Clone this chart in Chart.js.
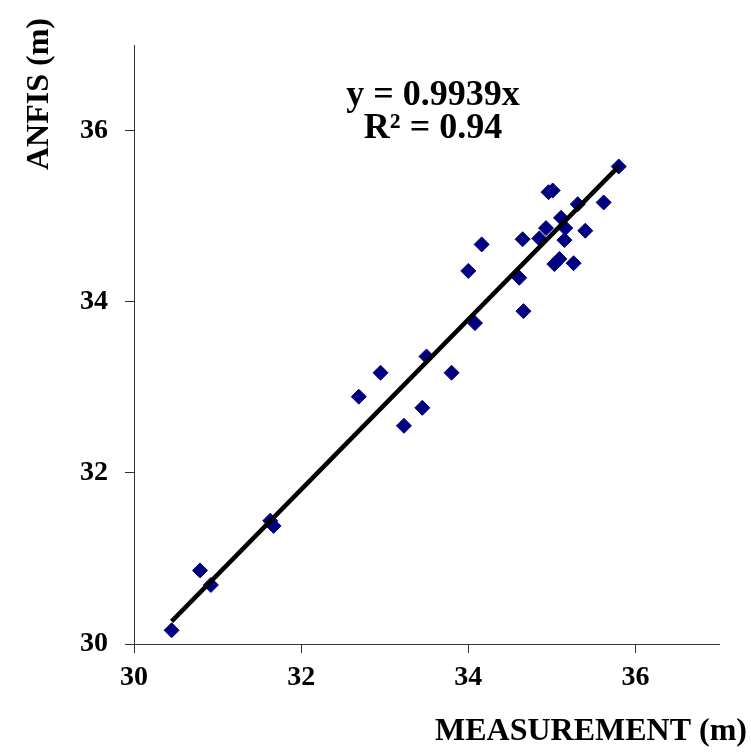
<!DOCTYPE html>
<html>
<head>
<meta charset="utf-8">
<script src="https://cdn.jsdelivr.net/npm/chart.js@4"></script>
<style>
  body { margin: 0; background: #fff; }
  #wrap { width: 751px; height: 753px; }
</style>
</head>
<body>
<div id="wrap"><canvas id="scatterChart"></canvas></div>
<script>
// measured level (x) vs ANFIS prediction (y), in metres
const measurement = [30.45, 30.79, 30.92, 31.63, 31.67, 32.69, 32.95, 33.23, 33.45, 33.50, 33.80,
  34.00, 34.08, 34.16, 34.61, 34.65, 34.66, 34.85, 34.93, 34.96, 35.01, 35.03, 35.09, 35.11,
  35.15, 35.16, 35.26, 35.31, 35.40, 35.62, 35.80];
const anfis = [30.16, 30.86, 30.69, 31.44, 31.38, 32.89, 33.17, 32.55, 32.76, 33.36, 33.17,
  34.36, 33.75, 34.67, 34.28, 34.73, 33.89, 34.74, 34.86, 35.28, 35.30, 34.44, 34.50, 34.98,
  34.72, 34.86, 34.45, 35.14, 34.83, 35.16, 35.58];

// trendline through origin
const slope = 0.9939;
const r2 = 0.94;

const tickValues = [30, 32, 34, 36];
const xTitle = "MEASUREMENT (m)";
const yTitle = "ANFIS (m)";

const points = measurement.map((x, i) => ({ x: x, y: anfis[i] }));
const xMin = Math.min(...measurement);
const xMax = Math.max(...measurement);
const trend = [xMin, xMax].map(x => ({ x: x, y: slope * x }));

const serif = "'Liberation Serif', 'Times New Roman', serif";

// equation + axis titles drawn by hand (placement like the excel chart)
const textPlugin = {
  id: "textPlugin",
  afterDraw(chart) {
    const ctx = chart.ctx;
    ctx.save();
    ctx.fillStyle = "#000";
    ctx.textBaseline = "alphabetic";

    ctx.font = "bold 36px " + serif;
    ctx.textAlign = "center";
    ctx.fillText("y = " + slope + "x", 433, 105);
    ctx.fillText("R² = " + r2, 433, 138);

    ctx.font = "bold 32px " + serif;
    ctx.textAlign = "right";
    ctx.fillText(xTitle, 747, 740);

    ctx.translate(48, 18);
    ctx.rotate(-Math.PI / 2);
    ctx.textAlign = "right";
    ctx.fillText(yTitle, 0, 0);
    ctx.restore();
  }
};

function axis(size) {
  return {
    type: "linear",
    min: 30,
    max: 37,
    ticks: {
      stepSize: 2,
      color: "#000",
      font: { family: serif, size: 28, weight: "bold" },
      padding: size === "y" ? 17 : 8
    },
    grid: { drawOnChartArea: false, drawTicks: true, tickLength: 9, tickColor: "#333" },
    border: { color: "#333", width: 1 },
    afterBuildTicks: s => { s.ticks = s.ticks.filter(t => tickValues.includes(t.value)); },
    afterFit: s => {
      if (size === "y") s.width = 134;
      else s.height = 109;
    }
  };
}

new Chart(document.getElementById("scatterChart"), {
  type: "scatter",
  data: {
    datasets: [
      {
        data: trend,
        showLine: true,
        borderColor: "#000",
        borderWidth: 4.5,
        pointRadius: 0,
        order: 0
      },
      {
        data: points,
        pointStyle: "rectRot",
        pointRadius: 7.5,
        backgroundColor: "#000080",
        borderColor: "#000080",
        borderWidth: 1,
        order: 1
      }
    ]
  },
  options: {
    responsive: true,
    maintainAspectRatio: false,
    animation: false,
    layout: { padding: { top: 45, right: 32, left: 0, bottom: 0 } },
    plugins: {
      legend: { display: false },
      tooltip: { enabled: false }
    },
    scales: {
      x: axis("x"),
      y: axis("y")
    }
  },
  plugins: [textPlugin]
});
</script>
</body>
</html>
